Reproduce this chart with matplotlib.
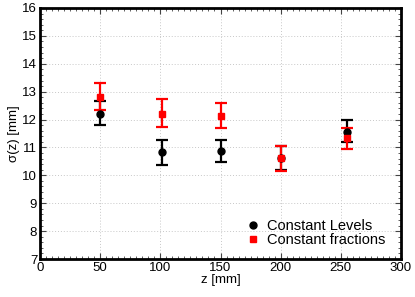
import matplotlib.pyplot as plt
from matplotlib.lines import Line2D
from matplotlib.ticker import MultipleLocator

plt.rcParams['font.family'] = ['Liberation Sans', 'DejaVu Sans']

# constant levels (black)
z_lev = [50, 101, 150, 200, 255]
sig_lev = [12.2, 10.84, 10.89, 10.62, 11.57]
err_lev_lo = [0.4, 0.48, 0.4, 0.42, 0.37]
err_lev_hi = [0.45, 0.43, 0.38, 0.42, 0.42]

# constant fractions (red)
z_frac = [50, 101, 150, 200, 255]
sig_frac = [12.82, 12.2, 12.12, 10.61, 11.35]
err_frac_lo = [0.48, 0.45, 0.43, 0.45, 0.41]
err_frac_hi = [0.48, 0.53, 0.46, 0.45, 0.36]

fig = plt.figure(figsize=(4.15, 2.97), dpi=100)
ax = fig.add_axes([40 / 415, 38 / 297, 361 / 415, 251 / 297])

ax.errorbar(z_lev, sig_lev, yerr=[err_lev_lo, err_lev_hi], fmt='o', color='black',
            ms=5, elinewidth=1.6, capsize=4, capthick=1.6)
ax.errorbar(z_frac, sig_frac, yerr=[err_frac_lo, err_frac_hi], fmt='s', color='#ff0000',
            ms=4.5, elinewidth=1.6, capsize=4, capthick=1.6)

ax.set_xlim(0, 300)
ax.set_ylim(7, 16)
ax.xaxis.set_major_locator(MultipleLocator(50))
ax.xaxis.set_minor_locator(MultipleLocator(5))
ax.yaxis.set_major_locator(MultipleLocator(1))
ax.yaxis.set_minor_locator(MultipleLocator(0.2))
ax.tick_params(which='both', direction='in', top=True, right=True, labelsize=9.5,
               color='#444444', pad=2)
ax.tick_params(which='major', length=4, width=0.8)
ax.tick_params(which='minor', length=2, width=0.6)
ax.grid(True, which='major', linestyle=(0, (1, 2)), color='#c8c8c8', linewidth=0.7)
ax.set_axisbelow(True)
for s in ax.spines.values():
    s.set_linewidth(2)

ax.set_xlabel('z [mm]', fontsize=9.5, labelpad=0)
ax.set_ylabel('σ(z) [mm]', fontsize=9.5, labelpad=2)

handles = [
    Line2D([], [], marker='o', ls='none', color='black', ms=5),
    Line2D([], [], marker='s', ls='none', color='#ff0000', ms=4.5),
]
ax.legend(handles, ['Constant Levels', 'Constant fractions'], loc='lower right',
          frameon=False, fontsize=10.5, handlelength=0.6, handletextpad=0.7,
          labelspacing=0.05, borderaxespad=0.4, bbox_to_anchor=(0.99, 0.0))

fig.savefig('out.png', dpi=100)
